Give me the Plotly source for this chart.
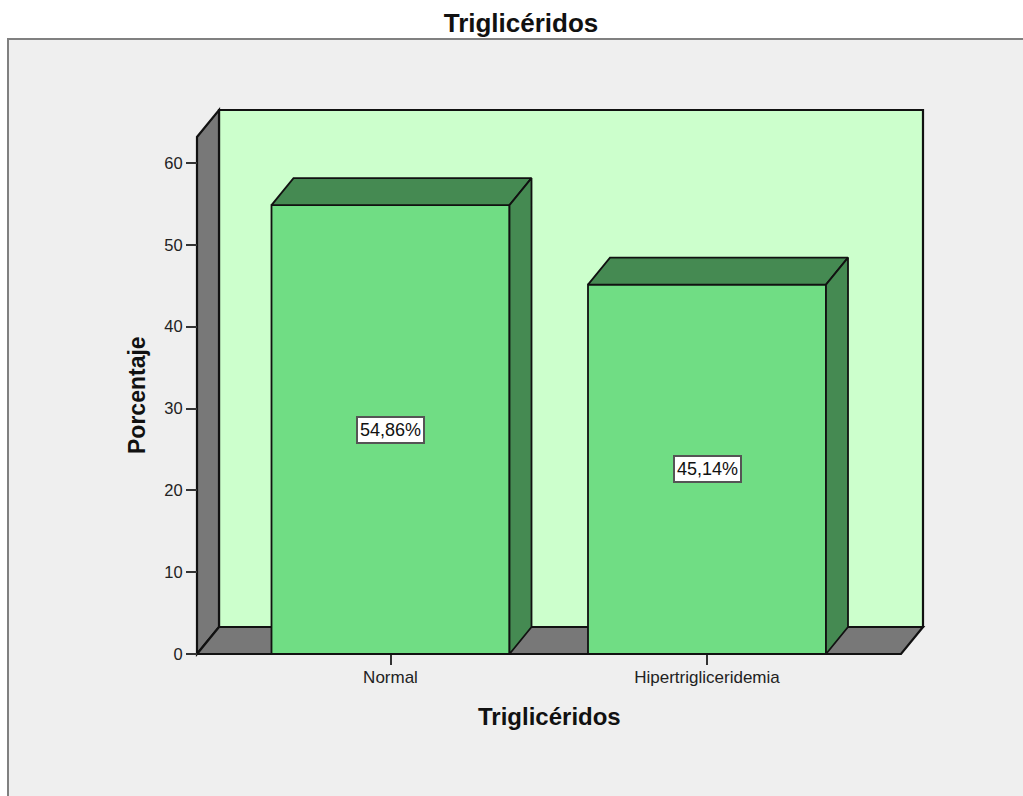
# -*- coding: utf-8 -*-
import plotly.graph_objects as go

# ─────────── DATOS ────────────────────────────────────────────────
categorias = ["Normal", "Hipertrigliceridemia"]
porcentajes = [54.86, 45.14]
y_ticks = [0, 10, 20, 30, 40, 50, 60]

# ─────────── ESTILO ───────────────────────────────────────────────
FONT = "Liberation Sans, Arial, sans-serif"
WIDTH, HEIGHT = 1023, 796
# chart box in pixels, PAD keeps the wall outlines from being clipped
L, R, T, B = 197, 923, 110, 654
PAD = 4
PX_X = 316.5      # px between two bars
PX_Y = 8.183      # px per percent point
X_MIN = (L - 390.5) / PX_X
X_MAX = (R - 390.5) / PX_X
Y_MAX = (B - T) / PX_Y
BAR_W = 238 / PX_X
DX = 22 / PX_X    # 3D depth in axis units
DY = 27 / PX_Y

C_FRONT = "#70dd84"
C_DARK = "#458a52"
C_WALL = "#ccffcc"
C_GREY = "#787878"
C_BG = "#efefef"
C_LINE = "#111111"


def path(pts):
    return "M " + " L ".join(f"{x},{y}" for x, y in pts) + " Z"


def wall(pts, color):
    return dict(type="path", path=path(pts), xref="x", yref="y", layer="below",
                fillcolor=color, line=dict(color=C_LINE, width=2.2))


def px_x(px):
    return (px - L + PAD) / (R - L + 2 * PAD)


def px_y(px):
    return (B + PAD - px) / (B - T + 2 * PAD)


xs = list(range(len(categorias)))
fig = go.Figure()

# front of the bars
fig.add_trace(go.Bar(
    x=xs, y=porcentajes, width=BAR_W,
    marker=dict(color=C_FRONT, line=dict(color=C_LINE, width=1.8)),
    hoverinfo="skip", showlegend=False,
))

# top and side of the bars
for x, v in zip(xs, porcentajes):
    x0, x1 = x - BAR_W / 2, x + BAR_W / 2
    top = [(x0, v), (x0 + DX, v + DY), (x1 + DX, v + DY), (x1, v), (x0, v)]
    side = [(x1, 0), (x1 + DX, DY), (x1 + DX, v + DY), (x1, v), (x1, 0)]
    for face in (top, side):
        fig.add_trace(go.Scatter(
            x=[p[0] for p in face], y=[p[1] for p in face],
            mode="lines", fill="toself", fillcolor=C_DARK,
            line=dict(color=C_LINE, width=1.8),
            hoverinfo="skip", showlegend=False,
        ))

# value labels
for x, v in zip(xs, porcentajes):
    fig.add_annotation(
        x=x, y=v / 2, text=f"{v:.2f}%".replace(".", ","), showarrow=False,
        font=dict(family=FONT, size=18, color=C_LINE),
        bgcolor="white", bordercolor="#555555", borderwidth=2, borderpad=2,
    )

# axis titles
fig.add_annotation(
    xref="paper", yref="paper", x=px_x(549), y=px_y(716), showarrow=False,
    xanchor="center", yanchor="middle",
    text="<b>Triglicéridos</b>", font=dict(family=FONT, size=24, color=C_LINE),
)
fig.add_annotation(
    xref="paper", yref="paper", x=px_x(137), y=px_y(395), showarrow=False,
    xanchor="center", yanchor="middle",
    text="<b>Porcentaje</b>", textangle=-90, font=dict(family=FONT, size=23, color=C_LINE),
)

shapes = [
    # outer chart frame, runs off the picture on the right and bottom
    dict(type="rect", xref="paper", yref="paper", layer="below",
         x0=px_x(8), x1=px_x(WIDTH + 10), y0=px_y(HEIGHT + 10), y1=px_y(39),
         fillcolor=C_BG, line=dict(color="#808080", width=2)),
    # back wall, left wall, floor
    wall([(X_MIN + DX, DY), (X_MAX, DY), (X_MAX, Y_MAX), (X_MIN + DX, Y_MAX)], C_WALL),
    wall([(X_MIN, 0), (X_MIN + DX, DY), (X_MIN + DX, Y_MAX), (X_MIN, Y_MAX - DY)], C_GREY),
    wall([(X_MIN, 0), (X_MAX - DX, 0), (X_MAX, DY), (X_MIN + DX, DY)], C_GREY),
]

fig.update_layout(
    width=WIDTH, height=HEIGHT,
    margin=dict(l=L - PAD, r=WIDTH - R - PAD, t=T - PAD, b=HEIGHT - B - PAD, autoexpand=False),
    paper_bgcolor="white",
    plot_bgcolor="rgba(0,0,0,0)",
    font=dict(family=FONT, color=C_LINE),
    title=dict(
        text="<b>Triglicéridos</b>",
        x=(442 + 600) / 2 / WIDTH, xanchor="center",
        y=1 - 23 / HEIGHT, yanchor="middle", yref="container",
        font=dict(family=FONT, size=26, color=C_LINE),
    ),
    shapes=shapes,
    xaxis=dict(
        range=[X_MIN - PAD / PX_X, X_MAX + PAD / PX_X],
        anchor="free", position=px_y(B),
        tickmode="array", tickvals=xs, ticktext=categorias,
        ticks="outside", ticklen=10, tickwidth=1.5, tickcolor="#333333",
        tickfont=dict(family=FONT, size=17, color="#222222"),
        ticklabelstandoff=-2,
        showgrid=False, zeroline=False, showline=False,
    ),
    yaxis=dict(
        range=[-PAD / PX_Y, Y_MAX + PAD / PX_Y],
        anchor="free", position=px_x(L),
        tickmode="array", tickvals=y_ticks,
        ticks="outside", ticklen=11, tickwidth=1.5, tickcolor="#333333",
        tickfont=dict(family=FONT, size=16.5, color="#222222"),
        showgrid=False, zeroline=False, showline=False,
    ),
)

fig.write_html("out.html", config={"displayModeBar": False},
               post_script="document.body.style.margin='0';document.body.style.overflow='hidden';")
